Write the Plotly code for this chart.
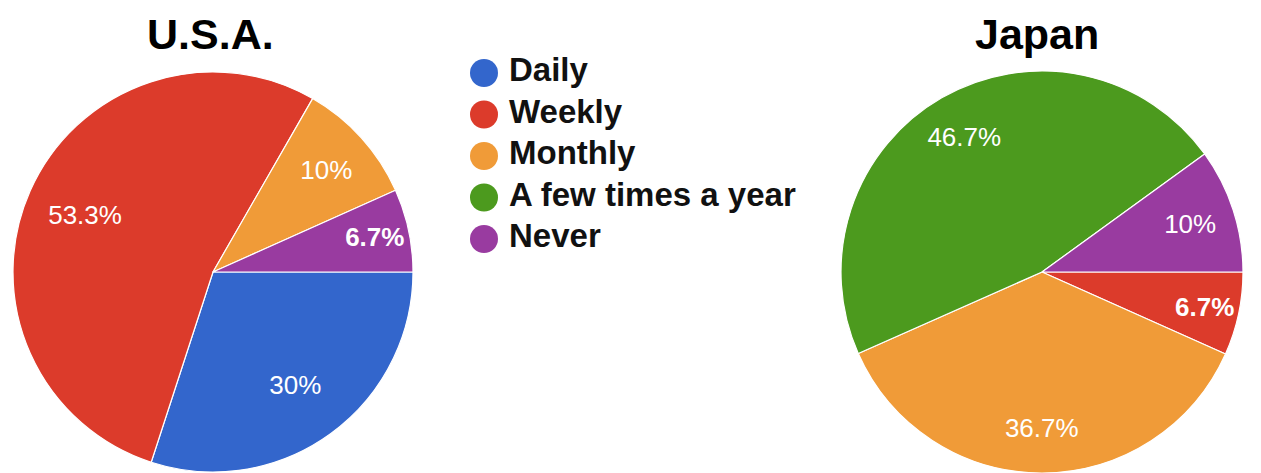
import plotly.graph_objects as go

# ---- data ----
CATEGORIES = ["Daily", "Weekly", "Monthly", "A few times a year", "Never"]
USA_VALUES = [30, 53.3, 10, 0, 6.7]
JAPAN_VALUES = [0, 6.7, 36.7, 46.7, 10]
PIE_TITLES = ["U.S.A.", "Japan"]

# ---- style ----
COLORS = {
    "Daily": "#3366CC",
    "Weekly": "#DC3B2B",
    "Monthly": "#F09B38",
    "A few times a year": "#4C9A1E",
    "Never": "#993BA0",
}
BOLD_LABELS = {"6.7%"}
W, H = 1261, 473
FONT = "Arial, Liberation Sans, sans-serif"
LABEL_SIZE = 26


def dom(x0, x1, y0, y1):
    return dict(x=[x0 / W, x1 / W], y=[1 - y1 / H, 1 - y0 / H])


def pie_pair(values, domain, label_hole):
    labs = [c for c, v in zip(CATEGORIES, values) if v > 0]
    vals = [v for v in values if v > 0]
    text = [f"{v:g}%" for v in vals]
    weights = ["bold" if t in BOLD_LABELS else "normal" for t in text]
    common = dict(labels=labs, values=vals, sort=False, direction="clockwise",
                  rotation=90, showlegend=False, domain=domain)
    base = go.Pie(
        **common,
        textinfo="none",
        marker=dict(colors=[COLORS[c] for c in labs], line=dict(color="white", width=1.2)),
        hoverinfo="label+percent",
    )
    # transparent ring carrying the labels, so they sit out toward the rim
    labels = go.Pie(
        **common,
        hole=label_hole,
        text=text,
        texttemplate="%{text}",
        textposition="inside",
        insidetextorientation="horizontal",
        textfont=dict(family=FONT, size=LABEL_SIZE, color="white", weight=weights),
        marker=dict(colors=["rgba(0,0,0,0)"] * len(labs), line=dict(width=0)),
        hoverinfo="skip",
    )
    return [base, labels]


fig = go.Figure()
for tr in pie_pair(USA_VALUES, dom(13, 413, 72, 472), 0.40):
    fig.add_trace(tr)
for tr in pie_pair(JAPAN_VALUES, dom(841, 1243, 71, 473), 0.55):
    fig.add_trace(tr)

# legend drawn as scatter marks on hidden axes (1 x-unit = 1 px)
LEGEND_TEXT_DX = 25
fig.add_trace(go.Scatter(
    x=[0] * len(CATEGORIES),
    y=list(range(len(CATEGORIES))),
    mode="markers",
    marker=dict(size=28, color=[COLORS[c] for c in CATEGORIES], symbol="circle"),
    cliponaxis=False, showlegend=False, hoverinfo="skip",
))
fig.add_trace(go.Scatter(
    x=[LEGEND_TEXT_DX] * len(CATEGORIES),
    y=list(range(len(CATEGORIES))),
    mode="text",
    text=CATEGORIES,
    textposition="middle right",
    textfont=dict(family=FONT, size=33, color="#111111", weight="bold"),
    cliponaxis=False, showlegend=False, hoverinfo="skip",
))

fig.update_layout(
    width=W, height=H,
    margin=dict(l=0, r=0, t=0, b=0),
    paper_bgcolor="white", plot_bgcolor="rgba(0,0,0,0)",
    xaxis=dict(domain=[484 / W, 884 / W], range=[0, 400], visible=False, fixedrange=True),
    yaxis=dict(domain=[1 - 239 / H, 1 - 73 / H], range=[len(CATEGORIES) - 1, 0],
               visible=False, fixedrange=True),
    uniformtext=dict(minsize=LABEL_SIZE, mode="show"),
    annotations=[
        dict(text=f"<b>{t}</b>", x=cx / W, y=1 - 34 / H, xref="paper", yref="paper",
             xanchor="center", yanchor="middle", showarrow=False,
             font=dict(family=FONT, size=43, color="black"))
        for t, cx in zip(PIE_TITLES, [210, 1037])
    ],
)

fig.write_html("out.html", config={"displayModeBar": False},
               post_script="document.body.style.margin='0';")
